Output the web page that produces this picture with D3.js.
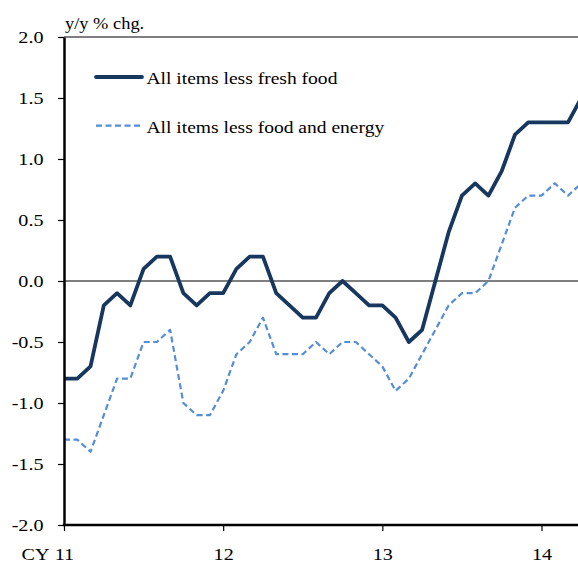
<!DOCTYPE html>
<html>
<head>
<meta charset="utf-8">
<script src="https://cdn.jsdelivr.net/npm/d3@7/dist/d3.min.js"></script>
<style>
  html, body { margin: 0; padding: 0; background: #fff; }
  svg { display: block; }
  text { font-family: "Liberation Serif", "Times New Roman", serif; fill: #000; }
</style>
</head>
<body>
<svg id="chart" width="578" height="563"></svg>
<script>
// ---- data ----
const months = [
  "2011-01","2011-02","2011-03","2011-04","2011-05","2011-06","2011-07","2011-08","2011-09","2011-10","2011-11","2011-12",
  "2012-01","2012-02","2012-03","2012-04","2012-05","2012-06","2012-07","2012-08","2012-09","2012-10","2012-11","2012-12",
  "2013-01","2013-02","2013-03","2013-04","2013-05","2013-06","2013-07","2013-08","2013-09","2013-10","2013-11","2013-12",
  "2014-01","2014-02","2014-03","2014-04"
];
const lessFreshFood = [
  -0.8,-0.8,-0.7,-0.2,-0.1,-0.2, 0.1, 0.2, 0.2,-0.1,-0.2,-0.1,
  -0.1, 0.1, 0.2, 0.2,-0.1,-0.2,-0.3,-0.3,-0.1, 0.0,-0.1,-0.2,
  -0.2,-0.3,-0.5,-0.4, 0.0, 0.4, 0.7, 0.8, 0.7, 0.9, 1.2, 1.3,
   1.3, 1.3, 1.3, 1.5
];
const lessFoodEnergy = [
  -1.3,-1.3,-1.4,-1.1,-0.8,-0.8,-0.5,-0.5,-0.4,-1.0,-1.1,-1.1,
  -0.9,-0.6,-0.5,-0.3,-0.6,-0.6,-0.6,-0.5,-0.6,-0.5,-0.5,-0.6,
  -0.7,-0.9,-0.8,-0.6,-0.4,-0.2,-0.1,-0.1, 0.0, 0.3, 0.6, 0.7,
   0.7, 0.8, 0.7, 0.8
];
const yTicks = [2.0, 1.5, 1.0, 0.5, 0.0, -0.5, -1.0, -1.5, -2.0];
const yTickLabels = ["2.0","1.5","1.0","0.5","0.0","-0.5","-1.0","-1.5","-2.0"];
const xTicks = [0, 12, 24, 36];
const xTickLabels = ["11","12","13","14"];
const seriesNames = ["All items less fresh food", "All items less food and energy"];
const unitLabel = "y/y % chg.";
const xPrefix = "CY";

// ---- layout ----
const svg = d3.select("#chart");
const plotLeft = 64, plotTop = 37, plotBottom = 525, plotRight = 578;
const sx = 1.15; // horizontal stretch of text seen in reference

const x = d3.scaleLinear().domain([0, 36]).range([plotLeft, 541.5]);
const y = d3.scaleLinear().domain([-2, 2]).range([plotBottom, plotTop]);

// top border
svg.append("line")
  .attr("x1", plotLeft).attr("x2", plotRight)
  .attr("y1", y(2)).attr("y2", y(2))
  .attr("stroke", "#555").attr("stroke-width", 1.5);

// zero line
svg.append("line")
  .attr("x1", plotLeft).attr("x2", plotRight)
  .attr("y1", y(0)).attr("y2", y(0))
  .attr("stroke", "#000").attr("stroke-width", 1.2);

// lines
const lineGen = d3.line()
  .x((d, i) => x(i))
  .y(d => y(d));

svg.append("path")
  .datum(lessFoodEnergy)
  .attr("d", lineGen)
  .attr("fill", "none")
  .attr("stroke", "#558ED5")
  .attr("stroke-width", 2.2)
  .attr("stroke-dasharray", "6,3.5")
  .attr("stroke-linejoin", "round");

svg.append("path")
  .datum(lessFreshFood)
  .attr("d", lineGen)
  .attr("fill", "none")
  .attr("stroke", "#17375E")
  .attr("stroke-width", 3.8)
  .attr("stroke-linejoin", "round");

// y axis
const yAxis = d3.axisLeft(y)
  .tickValues(yTicks)
  .tickFormat((d, i) => yTickLabels[i])
  .tickSize(6)
  .tickSizeOuter(0);
const gy = svg.append("g").attr("transform", `translate(${plotLeft},0)`).call(yAxis);
gy.select(".domain").attr("stroke", "#000").attr("stroke-width", 2.5);
gy.selectAll(".tick line").attr("stroke", "#000").attr("stroke-width", 1.2);
gy.selectAll(".tick text")
  .attr("x", -20.5 / sx)
  .attr("transform", `scale(${sx},1)`)
  .style("font-family", '"Liberation Serif", serif')
  .style("font-size", "17.5px")
  .attr("fill", "#000");

// x axis
const xAxis = d3.axisBottom(x)
  .tickValues(xTicks)
  .tickFormat((d, i) => xTickLabels[i])
  .tickSize(6)
  .tickSizeOuter(0);
const gx = svg.append("g").attr("transform", `translate(0,${plotBottom})`).call(xAxis);
gx.select(".domain").attr("stroke", "#000").attr("stroke-width", 2.5)
  .attr("d", `M${plotLeft - 1.25},0H${plotRight}`);
gx.selectAll(".tick line").attr("stroke", "#000").attr("stroke-width", 1.2);
gx.selectAll(".tick text")
  .attr("y", 35).attr("dy", null)
  .attr("transform", `scale(${sx},1)`)
  .style("font-family", '"Liberation Serif", serif')
  .style("font-size", "17.5px")
  .attr("fill", "#000");

// CY prefix
svg.append("text")
  .attr("transform", `translate(49.5,560) scale(${sx},1)`)
  .attr("text-anchor", "end")
  .style("font-size", "17.5px")
  .text(xPrefix);

// unit label
svg.append("text")
  .attr("transform", `translate(65,29) scale(${sx},1)`)
  .style("font-size", "16px")
  .text(unitLabel);

// legend
const legend = [
  { name: seriesNames[0], y: 77, text: 84.3, stroke: "#17375E", width: 3.8, dash: null },
  { name: seriesNames[1], y: 125.7, text: 132.5, stroke: "#558ED5", width: 2.2, dash: "6,3.5" }
];
legend.forEach(l => {
  svg.append("line")
    .attr("x1", 96).attr("x2", 142)
    .attr("y1", l.y).attr("y2", l.y)
    .attr("stroke", l.stroke).attr("stroke-width", l.width)
    .attr("stroke-dasharray", l.dash)
    .attr("stroke-linecap", l.dash ? "butt" : "round");
  svg.append("text")
    .attr("transform", `translate(146.5,${l.text}) scale(${sx},1)`)
    .style("font-size", "17px")
    .text(l.name);
});
</script>
</body>
</html>
